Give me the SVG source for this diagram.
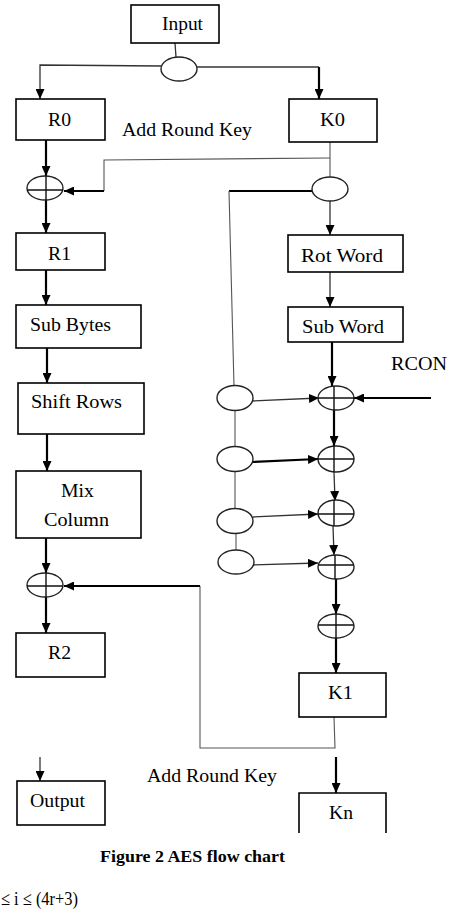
<svg xmlns="http://www.w3.org/2000/svg" width="449" height="916" viewBox="0 0 449 916">
<defs>
<marker id="ah" markerUnits="userSpaceOnUse" markerWidth="10" markerHeight="9" refX="10" refY="4.5" orient="auto">
<path d="M0,0 L10,4.5 L0,9 z" fill="#000"/>
</marker>
<style>
.box{fill:#fff;stroke:#000;stroke-width:1.6}
.t{font-family:"Liberation Serif","Times New Roman",serif;font-size:19px;fill:#000}
.ell{fill:#fff;stroke:#222;stroke-width:1.4}
.x{stroke:#111;stroke-width:1.4;fill:none}
.thick{stroke:#000;stroke-width:2.2;fill:none}
.thin{stroke:#333;stroke-width:1.3;fill:none}
.gray{stroke:#555;stroke-width:1.1;fill:none}
</style>
</defs>
<rect width="449" height="916" fill="#fff"/>

<g id="connectors">
<path class="thin" d="M175,43 L176,57"/>
<path class="thin" d="M161,66 L40,65 L40,99" marker-end="url(#ah)"/>
<path class="thin" d="M197,67 L319,67"/>
<path class="thick" d="M319,67 L319,99" marker-end="url(#ah)"/>
<path class="thick" d="M46,140 L46,176" marker-end="url(#ah)"/>
<path class="gray" d="M330,142 L330,177"/>
<path class="gray" d="M330,158 L104,160 L104,191"/>
<path class="thick" d="M104,191 L64,191" marker-end="url(#ah)"/>
<path class="thick" d="M46,200 L46,233" marker-end="url(#ah)"/>
<path class="thick" d="M46,270 L46,305" marker-end="url(#ah)"/>
<path class="thick" d="M47,348 L47,383" marker-end="url(#ah)"/>
<path class="thick" d="M47,434 L47,471" marker-end="url(#ah)"/>
<path class="thick" d="M46,538 L46,573" marker-end="url(#ah)"/>
<path class="thick" d="M46,597 L46,633" marker-end="url(#ah)"/>
<path class="gray" d="M334,717 L335,748 L200,748 L200,586"/>
<path class="thick" d="M200,586 L64,586" marker-end="url(#ah)"/>
<path class="thin" d="M330,201 L330,235" marker-end="url(#ah)"/>
<path class="thick" d="M312,191 L229,191"/>
<path class="gray" d="M229,191 L234,386"/>
<path class="thin" d="M330,272 L330,307" marker-end="url(#ah)"/>
<path class="thick" d="M332,342 L332,386" marker-end="url(#ah)"/>
<path class="thick" d="M431,398 L354,398" marker-end="url(#ah)"/>
<path class="thin" d="M253,401 L319,398" marker-end="url(#ah)"/>
<path class="thick" d="M334,410 L334,446" marker-end="url(#ah)"/>
<path class="gray" d="M235,411 L235,446"/>
<path class="gray" d="M235,472 L235,508"/>
<path class="gray" d="M236,534 L236,550"/>
<path class="thick" d="M253,462 L318,459" marker-end="url(#ah)"/>
<path class="thin" d="M334,472 L335,501" marker-end="url(#ah)"/>
<path class="thin" d="M253,517 L318,514" marker-end="url(#ah)"/>
<path class="thin" d="M333,526 L334,555" marker-end="url(#ah)"/>
<path class="thin" d="M253,565 L318,563" marker-end="url(#ah)"/>
<path class="thick" d="M336,579 L336,614" marker-end="url(#ah)"/>
<path class="thick" d="M336,638 L336,673" marker-end="url(#ah)"/>
<path class="thick" d="M336,757 L336,793" marker-end="url(#ah)"/>
<path class="thin" d="M40,757 L40,781" marker-end="url(#ah)"/>
</g>

<g id="input"><rect class="box" x="131" y="5" width="88" height="38"/><text class="t" x="162" y="30" textLength="41" lengthAdjust="spacingAndGlyphs">Input</text></g>
<g id="split"><ellipse class="ell" cx="179" cy="69" rx="18" ry="12"/></g>
<g id="r0"><rect class="box" x="16" y="99" width="89" height="41"/><text class="t" x="48" y="126" textLength="23" lengthAdjust="spacingAndGlyphs">R0</text></g>
<g id="k0"><rect class="box" x="289" y="99" width="88" height="43"/><text class="t" x="320" y="126" textLength="25" lengthAdjust="spacingAndGlyphs">K0</text></g>
<g id="label-ark1"><text class="t" x="122" y="136" textLength="130" lengthAdjust="spacingAndGlyphs">Add Round Key</text></g>
<g id="xor1"><ellipse class="ell" cx="45" cy="188" rx="18" ry="12"/><path class="x" d="M27,190 H63 M46,176 V200"/></g>
<g id="k0split"><ellipse class="ell" cx="330" cy="189" rx="18" ry="12"/></g>
<g id="r1"><rect class="box" x="16" y="233" width="89" height="37"/><text class="t" x="48" y="260" textLength="23" lengthAdjust="spacingAndGlyphs">R1</text></g>
<g id="subbytes"><rect class="box" x="16" y="305" width="125" height="43"/><text class="t" x="30" y="331" textLength="81" lengthAdjust="spacingAndGlyphs">Sub Bytes</text></g>
<g id="shiftrows"><rect class="box" x="18" y="383" width="126" height="51"/><text class="t" x="31" y="408" textLength="91" lengthAdjust="spacingAndGlyphs">Shift Rows</text></g>
<g id="mixcolumn"><rect class="box" x="16" y="471" width="125" height="67"/><text class="t" x="61" y="497" textLength="33" lengthAdjust="spacingAndGlyphs">Mix</text><text class="t" x="44" y="526" textLength="65" lengthAdjust="spacingAndGlyphs">Column</text></g>
<g id="xor2"><ellipse class="ell" cx="45" cy="585" rx="18" ry="12"/><path class="x" d="M27,586 H63 M46,573 V597"/></g>
<g id="r2"><rect class="box" x="16" y="633" width="89" height="44"/><text class="t" x="48" y="659" textLength="23" lengthAdjust="spacingAndGlyphs">R2</text></g>
<g id="rotword"><rect class="box" x="288" y="235" width="115" height="37"/><text class="t" x="301" y="262" textLength="82" lengthAdjust="spacingAndGlyphs">Rot Word</text></g>
<g id="subword"><rect class="box" x="288" y="307" width="115" height="35"/><text class="t" x="302" y="333" textLength="82" lengthAdjust="spacingAndGlyphs">Sub Word</text></g>
<g id="rcon"><text class="t" x="391" y="370" textLength="56" lengthAdjust="spacingAndGlyphs">RCON</text></g>
<g id="e1"><ellipse class="ell" cx="336" cy="398" rx="18" ry="12"/><path class="x" d="M318,398 H354 M334,386 V410"/></g>
<g id="e2"><ellipse class="ell" cx="336" cy="459" rx="18" ry="13"/><path class="x" d="M318,459 H354 M334,446 V472"/></g>
<g id="e3"><ellipse class="ell" cx="336" cy="513" rx="18" ry="13"/><path class="x" d="M318,514 H354 M334,500 V526"/></g>
<g id="e4"><ellipse class="ell" cx="336" cy="567" rx="18" ry="12"/><path class="x" d="M318,565 H354 M335,555 V579"/></g>
<g id="e5"><ellipse class="ell" cx="336" cy="626" rx="18" ry="12"/><path class="x" d="M318,625 H354 M336,614 V638"/></g>
<g id="l1"><ellipse class="ell" cx="235" cy="398" rx="18" ry="12.5"/></g>
<g id="l2"><ellipse class="ell" cx="235" cy="459" rx="18" ry="12.5"/></g>
<g id="l3"><ellipse class="ell" cx="235" cy="521" rx="18" ry="12.5"/></g>
<g id="l4"><ellipse class="ell" cx="236" cy="562" rx="18" ry="12"/></g>
<g id="k1"><rect class="box" x="299" y="673" width="87" height="44"/><text class="t" x="328" y="699" textLength="25" lengthAdjust="spacingAndGlyphs">K1</text></g>
<g id="label-ark2"><text class="t" x="147" y="782" textLength="130" lengthAdjust="spacingAndGlyphs">Add Round Key</text></g>
<g id="output"><rect class="box" x="17" y="781" width="88" height="44"/><text class="t" x="30" y="807" textLength="55" lengthAdjust="spacingAndGlyphs">Output</text></g>
<g id="kn"><path class="box" d="M299,833 L299,793 L386,793 L386,833" fill="none"/><text class="t" x="329" y="819" textLength="24" lengthAdjust="spacingAndGlyphs">Kn</text></g>
<g id="caption"><text x="100" y="862" font-family="Liberation Serif, Times New Roman, serif" font-size="17" font-weight="bold" textLength="185" lengthAdjust="spacingAndGlyphs">Figure 2 AES flow chart</text></g>
<g id="footer"><text class="t" x="1" y="905" textLength="77" lengthAdjust="spacingAndGlyphs">≤ i ≤ (4r+3)</text></g>
</svg>
